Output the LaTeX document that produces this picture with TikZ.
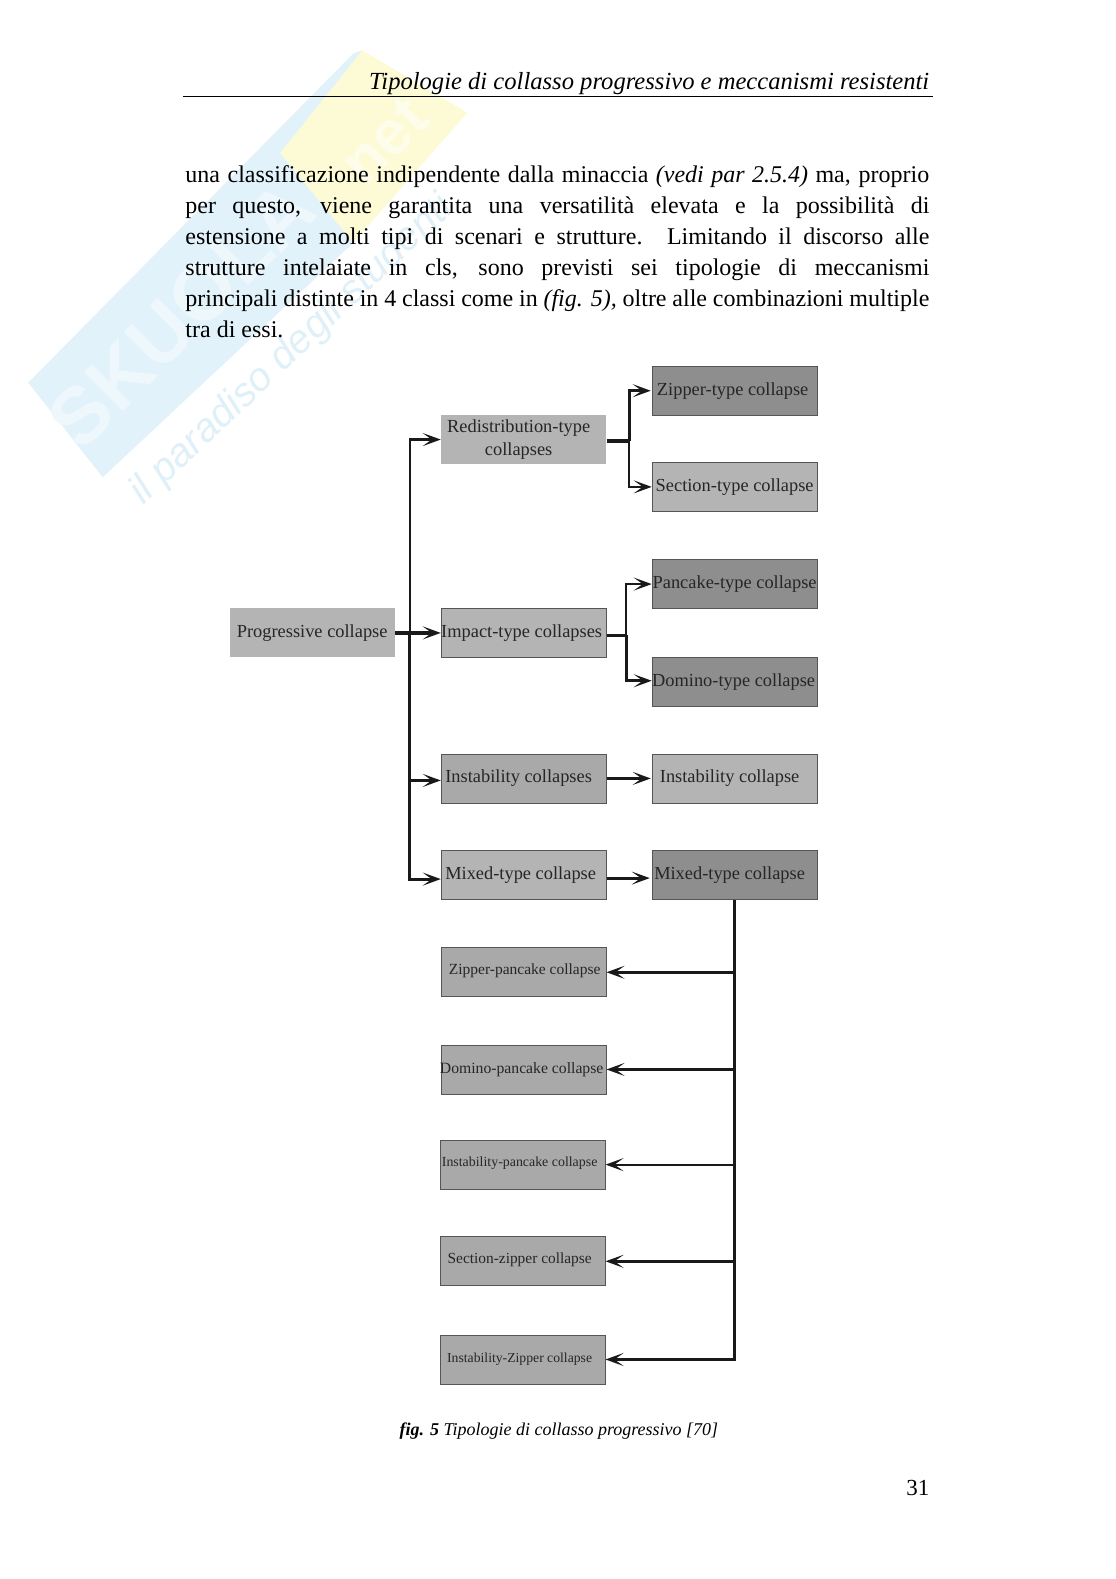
\documentclass[tikz,border=0pt]{standalone}
\usepackage{fontspec}
\setmainfont{Liberation Serif}
\newfontfamily\marksans{Liberation Sans}
\usetikzlibrary{arrows.meta}
\definecolor{wmblue}{HTML}{E2F2FA}
\definecolor{wmyellow}{HTML}{FDFBD6}
\definecolor{wmink}{HTML}{EDF7FC}
\definecolor{wmnetink}{HTML}{FEFDEB}
\definecolor{wmscript}{HTML}{DFF0F8}
\definecolor{boxlight}{HTML}{B4B4B4}
\definecolor{boxmid}{HTML}{A9A9A9}
\definecolor{boxdark}{HTML}{8E8E8E}
\definecolor{boxedge}{HTML}{555555}
\definecolor{boxink}{HTML}{262626}
\newcommand{\fsz}[1]{\fontsize{#1}{#1}\selectfont}
\newcommand{\mv}[3]{\raisebox{#2pt}{\kern#1pt #3\kern-#1pt}}
\tikzset{
	collapsebox/.style={minimum width=165pt, minimum height=49pt, inner sep=0pt, text=boxink, font=\fsz{18.4}, draw=boxedge, line width=0.8pt},
	lightbox/.style={collapsebox, fill=boxlight},
	midbox/.style={collapsebox, fill=boxmid},
	darkbox/.style={collapsebox, fill=boxdark},
	wire/.style={line width=2.2pt, draw=black!90},
	thickwire/.style={line width=3.2pt, draw=black!90},
	tip/.style={-{Stealth[length=18pt,width=13pt,inset=9pt]}},
}

\begin{document}
\begin{tikzpicture}[x=1.0072pt, y=-1.0072pt]
	\useasboundingbox (0,0) rectangle (1108,1568);

	% watermark
	\fill[wmblue] (28,380) -- (351,53) -- (360,50) -- (351,241) -- (102,474) -- cycle;
	\fill[wmyellow] (278,152) -- (360,50) -- (464,112) -- (351,241) -- cycle;
	\node[rotate=45, text=wmink, font=\marksans\bfseries\fsz{80}] (wmname) at (180,312) {SKUOLA};
	\node[rotate=45, text=wmnetink, font=\marksans\bfseries\fsz{62}] (wmnet) at (382,140) {net};
	\node[rotate=43.5, text=wmscript, font=\marksans\itshape\fsz{40}] (wmscript) at (290,348) {il paradiso degli studenti};

	% page text
	\node[anchor=south east, inner sep=0pt, font=\itshape\fsz{24.6}] (header) at (923,94) {Tipologie di collasso progressivo e meccanismi resistenti};
	\coordinate (ruleleft) at (182,96);
	\coordinate (ruleright) at (926,96);
	\draw[line width=1.3pt] (ruleleft) -- (ruleright);
	\node[anchor=north west, inner sep=0pt, text width=744pt, align=justify, font=\fontsize{24}{30.9}\selectfont] (body) at (184,164.5) {una classificazione indipendente dalla minaccia \emph{(vedi par 2.5.4)} ma, proprio\linebreak
	per questo, viene garantita una versatilità elevata e la possibilità di\linebreak
	estensione a molti tipi di scenari e strutture. Limitando il discorso alle\linebreak
	strutture intelaiate in cls, sono previsti sei tipologie di meccanismi\linebreak
	principali distinte in 4 classi come in \emph{(fig. 5),} oltre alle combinazioni multiple\linebreak
	tra di essi.};

	% boxes
	\node[lightbox, draw=none] (prog) at (310,628.5) {\mv{0}{3}{Progressive collapse}};
	\node[lightbox, draw=none] (redis) at (520,436.5) {\mv{-5}{0}{\shortstack{Redistribution-type\\[4pt]collapses}}};
	\node[lightbox] (imp) at (520,628.5) {\mv{-2}{-2}{Impact-type collapses}};
	\node[midbox] (instc) at (520,773) {\mv{-5}{5}{Instability collapses}};
	\node[lightbox] (mixc) at (520,869) {\mv{-3}{-2}{Mixed-type collapse}};
	\node[darkbox] (zipt) at (729.5,388) {\mv{-2}{4}{Zipper-type collapse}};
	\node[lightbox] (sect) at (729.5,483.5) {\mv{0}{1}{Section-type collapse}};
	\node[darkbox] (pant) at (729.5,580) {\mv{0}{1}{Pancake-type collapse}};
	\node[darkbox] (domt) at (729.5,677) {\mv{-1}{2}{Domino-type collapse}};
	\node[lightbox] (inst) at (729.5,773) {\mv{-5}{1}{Instability collapse}};
	\node[darkbox] (mixt) at (729.5,869) {\mv{-5}{4}{Mixed-type collapse}};
	\node[midbox, font=\fsz{15.5}] (zippan) at (520,965.5) {\mv{1}{6}{Zipper-pancake collapse}};
	\node[midbox, font=\fsz{15.7}] (dompan) at (520,1062) {\mv{-2}{-1}{Domino-pancake collapse}};
	\node[midbox, font=\fsz{13.9}] (inspan) at (519,1156.5) {\mv{-3}{5}{Instability-pancake collapse}};
	\node[midbox, font=\fsz{15.4}] (seczip) at (519,1252.5) {\mv{-3}{6}{Section-zipper collapse}};
	\node[midbox, font=\fsz{13.7}] (inszip) at (519,1350) {\mv{-3}{-1}{Instability-Zipper collapse}};

	% connectors
	\coordinate (spine) at (407,628.5);
	\coordinate (forkup) at (625,438);
	\coordinate (forklow) at (622,631);
	\draw[thickwire, tip] (prog) -- (imp);
	\draw[wire, tip] (spine) |- (redis);
	\draw[wire, tip] (spine) |- ([yshift=-2pt]instc.west);
	\draw[thickwire, tip] (spine) |- ([yshift=-4pt]mixc.west);
	\draw[thickwire] (redis.east |- forkup) -- (forkup);
	\draw[thickwire, tip] (forkup) |- ([xshift=-1pt]zipt.west);
	\draw[wire, tip] (forkup) |- (sect);
	\draw[wire] (imp.east |- forklow) -- (forklow);
	\draw[wire, tip] (forklow) |- (pant);
	\draw[thickwire, tip] (forklow) |- ([yshift=1pt]domt.west);
	\draw[thickwire, tip] (instc) -- ([xshift=-1pt]inst.west);
	\draw[thickwire, tip] ([yshift=-3pt]mixc.east) -- ([xshift=-2pt,yshift=-3pt]mixt.west);
	\draw[thickwire, tip] (mixt.south) |- (zippan);
	\draw[thickwire, tip] (mixt.south) |- (dompan);
	\draw[wire, tip] (mixt.south) |- (inspan);
	\draw[thickwire, tip] (mixt.south) |- (seczip);
	\draw[thickwire, tip] (mixt.south) |- (inszip);

	% caption and page number
	\node[anchor=base, inner sep=0pt, font=\itshape\fsz{18}] (caption) at (555,1425) {\textbf{fig. 5} Tipologie di collasso progressivo [70]};
	\node[anchor=base east, inner sep=0pt, font=\fsz{23}] (pagenum) at (923,1485) {31};
\end{tikzpicture}
\end{document}
